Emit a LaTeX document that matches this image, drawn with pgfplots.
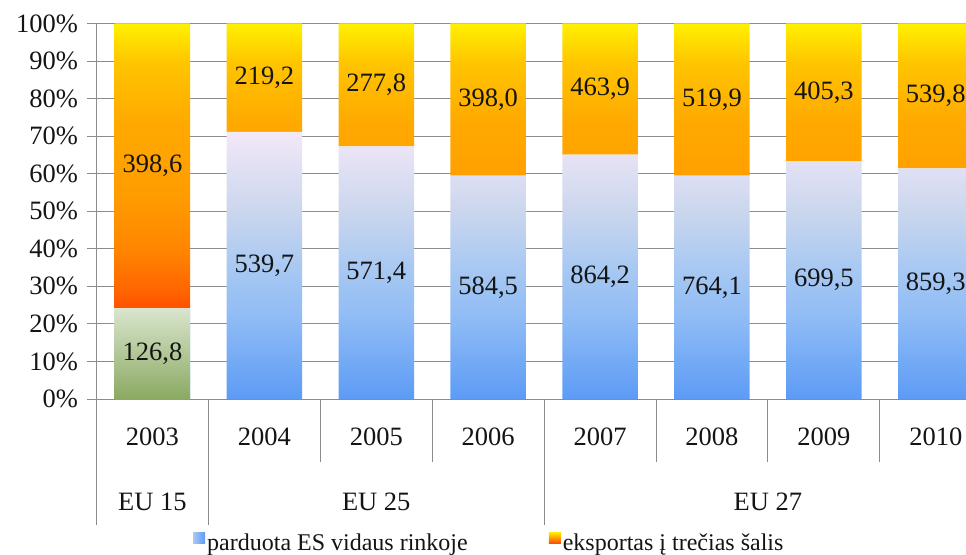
\documentclass[border=0pt]{standalone}
\usepackage{pgfplots}
\pgfplotsset{compat=1.18}
\usepackage{pgfplotstable}
\usepackage{fontspec}
\setmainfont{Liberation Serif}
\definecolor{gridgray}{HTML}{8C8C8C}
\definecolor{b1}{HTML}{F2E8F8}
\definecolor{b2}{HTML}{CAD6EE}
\definecolor{b3}{HTML}{A9C9F2}
\definecolor{b4}{HTML}{8FBBF5}
\definecolor{b5}{HTML}{5C9BF5}
\definecolor{o1}{HTML}{FFF000}
\definecolor{o2}{HTML}{FFC400}
\definecolor{o3}{HTML}{FFAA00}
\definecolor{o4}{HTML}{FF9C00}
\definecolor{o5}{HTML}{FF8400}
\definecolor{o6}{HTML}{FF6400}
\definecolor{o7}{HTML}{FF5000}
\definecolor{g1}{HTML}{D9E5CD}
\definecolor{g2}{HTML}{B2C798}
\definecolor{g3}{HTML}{8BA961}
\definecolor{txt}{HTML}{141414}
\pgfdeclareverticalshading{bluegrad}{100bp}{color(0bp)=(b5); color(25bp)=(b5); color(40bp)=(b4); color(50bp)=(b3); color(60bp)=(b2); color(75bp)=(b1); color(100bp)=(b1)}
\pgfdeclareverticalshading{orgrad}{100bp}{color(0bp)=(o7); color(25bp)=(o7); color(28bp)=(o6); color(35bp)=(o5); color(45bp)=(o4); color(58bp)=(o3); color(68bp)=(o2); color(75bp)=(o1); color(100bp)=(o1)}
\pgfdeclareverticalshading{grgrad}{100bp}{color(0bp)=(g3); color(25bp)=(g3); color(50bp)=(g2); color(75bp)=(g1); color(100bp)=(g1)}
\newcommand\bigfont{\fontsize{26.5}{30}\selectfont}
\newcommand\legfont{\fontsize{24}{28}\selectfont}
\pgfplotstableread{
x a b
0 126.8 398.6
1 539.7 219.2
2 571.4 277.8
3 584.5 398.0
4 864.2 463.9
5 764.1 519.9
6 699.5 405.3
7 859.3 539.8
}\datatable
\pgfplotstableread{
x a b
0 126.8 398.6
}\eufifteen
\pgfplotsset{
  base/.style={
    at={(0pt,0pt)}, anchor=south west,
    scale only axis, width=869.5pt, height=375.5pt,
    xmin=-0.5, xmax=7.27, ymin=0, ymax=100,
    enlargelimits=false, clip=false,
    ybar stacked, bar width=75.5pt,
    point meta=explicit,
    nodes near coords={\pgfmathprintnumber[fixed,fixed zerofill,precision=1,use comma,assume math mode=true]{\pgfplotspointmeta}},
    every node near coord/.append style={font=\bigfont, text=txt, anchor=center},
  },
}
\begin{document}
\begin{tikzpicture}
\begin{axis}[base,
  axis x line*=bottom, axis y line*=left,
  axis line style={gridgray, line width=0.9pt},
  ytick={0,10,...,100},
  yticklabels={0\%,10\%,20\%,30\%,40\%,50\%,60\%,70\%,80\%,90\%,100\%},
  ymajorgrids, grid style={gridgray, line width=0.9pt},
  tick align=outside, major tick length=9pt,
  tick style={gridgray, line width=0.9pt},
  xtick={0,...,7}, xticklabels={2003,2004,2005,2006,2007,2008,2009,2010},
  xtick style={draw=none},
  ticklabel style={font=\bigfont, text=txt},
  yticklabel style={xshift=-6pt},
  xticklabel style={anchor=center, yshift=-29pt},
  legend columns=2,
  legend style={at={(0.111,-0.3835)}, anchor=west, draw=none, fill=none,
    font=\legfont, inner sep=0pt, text=txt,
    /tikz/every even column/.append style={column sep=79pt},
    nodes={inner sep=2pt}},
]
\addplot[shading=bluegrad, draw=none,
  legend image code/.code={\path[left color=b3, right color=b5, draw=none] (0pt,0pt) rectangle (12pt,11pt);}]
  table[x=x, y expr={100*\thisrow{a}/(\thisrow{a}+\thisrow{b})}, meta=a] {\datatable};
\addlegendentry{parduota ES vidaus rinkoje}
\addplot[shading=orgrad, draw=none,
  legend image code/.code={\path[top color=o1, bottom color=o7, draw=none] (0pt,0pt) rectangle (12pt,11pt);}]
  table[x=x, y expr={100*\thisrow{b}/(\thisrow{a}+\thisrow{b})}, meta=b] {\datatable};
\addlegendentry{eksportas į trečias šalis}
\draw[gridgray, line width=0.9pt] (axis cs:-0.5,0) -- ++(0pt,-126pt);
\draw[gridgray, line width=0.9pt] (axis cs:0.5,0) -- ++(0pt,-126pt);
\draw[gridgray, line width=0.9pt] (axis cs:3.5,0) -- ++(0pt,-126pt);
\draw[gridgray, line width=0.9pt] (axis cs:1.5,0) -- ++(0pt,-63pt);
\draw[gridgray, line width=0.9pt] (axis cs:2.5,0) -- ++(0pt,-63pt);
\draw[gridgray, line width=0.9pt] (axis cs:4.5,0) -- ++(0pt,-63pt);
\draw[gridgray, line width=0.9pt] (axis cs:5.5,0) -- ++(0pt,-63pt);
\draw[gridgray, line width=0.9pt] (axis cs:6.5,0) -- ++(0pt,-63pt);
\node[font=\bigfont, text=txt, yshift=-103pt] at (axis cs:0,0) {EU 15};
\node[font=\bigfont, text=txt, yshift=-103pt] at (axis cs:2,0) {EU 25};
\node[font=\bigfont, text=txt, yshift=-103pt] at (axis cs:5.5,0) {EU 27};
\end{axis}
\begin{axis}[base, hide axis]
\addplot[shading=grgrad, draw=none]
  table[x=x, y expr={100*\thisrow{a}/(\thisrow{a}+\thisrow{b})}, meta=a] {\eufifteen};
\end{axis}
\pgfresetboundingbox
\path[use as bounding box] (-96.5pt,-155pt) rectangle (869.5pt,399pt);
\end{tikzpicture}
\end{document}
